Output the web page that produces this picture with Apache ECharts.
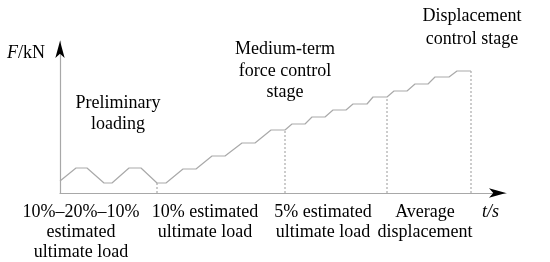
<!DOCTYPE html>
<html>
<head>
<meta charset="utf-8">
<script src="https://cdn.jsdelivr.net/npm/echarts@6/dist/echarts.min.js"></script>
<style>
html,body{margin:0;padding:0;background:#fff;}
#c{width:550px;height:262px;}
</style>
</head>
<body>
<div id="c"></div>
<script>
// Loading history: time (arbitrary units) and force (arbitrary units)
var tVals = [0,16,27,44,52,69,81,97,106,123,136,152,165,182,195,211,225,232,245,252,265,273,286,293,307,313,327,334,347,355,368,375,389,397,411];
var fVals = [12,25,25,10,10,25,25,10,10,24,24,37,37,50,50,63,63,69,69,76,76,83,83,89,89,96,96,102,102,109,109,116,116,122,122];
// Stage boundaries (time)
var stageT = [97,225,327,411];
// Bottom tick labels and their time positions
var tickT = [21,145,263,365];
var tickLabels = ["10%\u201320%\u201310%\nestimated\nultimate load","10% estimated\nultimate load","5% estimated\nultimate load","Average\ndisplacement"];
// Stage titles
var stageTitles = ["Preliminary\nloading","Medium-term\nforce control\nstage","Displacement\ncontrol stage"];

var FONT = "Liberation Serif, Times New Roman, serif";
var chart = echarts.init(document.getElementById('c'), null, {renderer:'canvas'});

var mainData = tVals.map(function(t,i){return [t,fVals[i]];});
var dropSeries = stageT.map(function(t){
  var i = tVals.indexOf(t);
  return {
    type:'line', silent:true, symbol:'none', animation:false, z:1,
    data:[[t,0],[t,fVals[i]]],
    lineStyle:{color:'#9a9a9a', width:1, type:[2,2]}
  };
});
var axisCommon = {axisTick:{show:false}, splitLine:{show:false}};

chart.setOption({
  animation:false,
  grid:{left:60, right:44, top:41, bottom:69},
  xAxis:[
    Object.assign({
      type:'value', min:0, max:446,
      axisLine:{show:true, lineStyle:{color:'#a8a8a8', width:1.2}},
      axisLabel:{show:true, customValues:tickT, margin:9,
        formatter:function(v){var i=tickT.indexOf(v);return i>=0?tickLabels[i]:'';},
        fontFamily:FONT, fontSize:18, color:'#000', lineHeight:20},
      name:'t/s', nameLocation:'end', nameGap:-7,
      nameTextStyle:{fontFamily:FONT, fontSize:18, fontStyle:'italic', color:'#000', align:'right', verticalAlign:'top', padding:[10,0,0,0]}
    }, axisCommon),
    Object.assign({
      type:'value', min:0, max:446, position:'bottom',
      axisLine:{show:true, symbol:['none','arrow'], symbolSize:[7,17], lineStyle:{color:'#000', width:0}},
      axisLabel:{show:false}
    }, axisCommon)
  ],
  yAxis:[
    Object.assign({
      type:'value', min:0, max:152,
      axisLine:{show:true, lineStyle:{color:'#a8a8a8', width:1.2}},
      axisLabel:{show:false},
      name:'{i|F}/kN', nameLocation:'end', nameGap:-12,
      nameTextStyle:{fontFamily:FONT, fontSize:18, color:'#000', align:'right', verticalAlign:'middle', padding:[0,15,0,0],
        rich:{i:{fontFamily:FONT, fontSize:18, fontStyle:'italic', color:'#000'}}}
    }, axisCommon),
    Object.assign({
      type:'value', min:0, max:152, position:'left',
      axisLine:{show:true, symbol:['none','arrow'], symbolSize:[7,17], lineStyle:{color:'#000', width:0}},
      axisLabel:{show:false}
    }, axisCommon)
  ],
  series:[{
    type:'line', silent:true, symbol:'none', z:2,
    data:mainData,
    lineStyle:{color:'#a9a9a9', width:1.2}
  }].concat(dropSeries),
  graphic:[
    {type:'text', x:118, y:93, style:{text:stageTitles[0], font:'18px '+FONT, fill:'#000', align:'center', verticalAlign:'top', lineHeight:21}},
    {type:'text', x:285, y:39, style:{text:stageTitles[1], font:'18px '+FONT, fill:'#000', align:'center', verticalAlign:'top', lineHeight:21.5}},
    {type:'text', x:472, y:5, style:{text:stageTitles[2], font:'18px '+FONT, fill:'#000', align:'center', verticalAlign:'top', lineHeight:23}}
  ]
});
</script>
</body>
</html>
